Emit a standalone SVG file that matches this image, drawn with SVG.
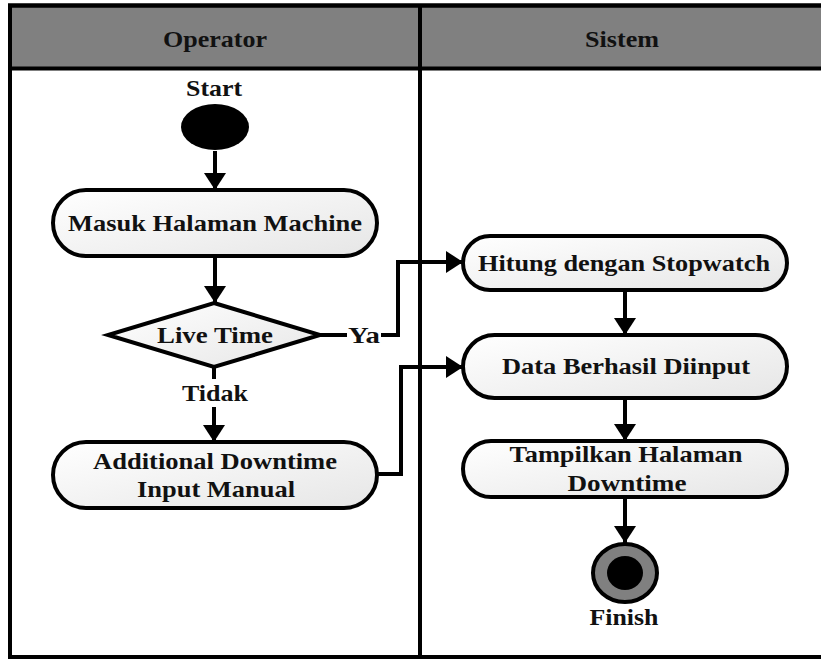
<svg xmlns="http://www.w3.org/2000/svg" width="821" height="659" viewBox="0 0 821 659">
  <defs>
    <linearGradient id="nodeFill" x1="0" y1="0" x2="1" y2="1">
      <stop offset="0" stop-color="#ffffff"/>
      <stop offset="1" stop-color="#e6e6e6"/>
    </linearGradient>
    <marker id="arrow" viewBox="0 0 17 22" refX="17" refY="11" markerWidth="17" markerHeight="22" markerUnits="userSpaceOnUse" orient="auto">
      <path d="M0,0 L17,11 L0,22 Z" fill="#000"/>
    </marker>
    <style>
      .lane { fill: none; stroke: #000; stroke-width: 4; }
      .head { fill: #808080; stroke: #000; stroke-width: 4; }
      .act { fill: url(#nodeFill); stroke: #000; stroke-width: 4; }
      .edge { fill: none; stroke: #000; stroke-width: 4; }
      .edge-arrow { fill: none; stroke: #000; stroke-width: 4; marker-end: url(#arrow); }
      text { font-family: "Liberation Serif", "Times New Roman", serif; font-weight: bold; font-size: 24px; fill: #111; text-anchor: middle; dominant-baseline: central; }
      .title { font-size: 23px; }
    </style>
  </defs>

  <!-- swimlanes -->
  <g id="lanes">
    <rect class="head" x="10" y="5.5" width="830" height="63"/>
    <rect class="lane" x="10" y="5.5" width="830" height="651.5"/>
    <line class="lane" x1="420" y1="5.5" x2="420" y2="657"/>
    <text class="title" x="215" y="39" textLength="104" lengthAdjust="spacingAndGlyphs">Operator</text>
    <text class="title" x="622" y="39" textLength="74" lengthAdjust="spacingAndGlyphs">Sistem</text>
  </g>

  <!-- connectors -->
  <g id="connectors">
    <line class="edge-arrow" x1="215" y1="151" x2="215" y2="190"/>
    <line class="edge-arrow" x1="215" y1="256" x2="215" y2="303"/>
    <line class="edge" x1="320" y1="335" x2="347" y2="335"/>
    <path class="edge-arrow" d="M381,335 H398 V262 H463"/>
    <line class="edge" x1="214" y1="367" x2="214" y2="379"/>
    <line class="edge-arrow" x1="214" y1="407" x2="214" y2="442"/>
    <path class="edge-arrow" d="M377,474 H401 V367 H463"/>
    <line class="edge-arrow" x1="625" y1="290" x2="625" y2="335"/>
    <line class="edge-arrow" x1="625" y1="398" x2="625" y2="441"/>
    <line class="edge-arrow" x1="625" y1="497" x2="625" y2="543"/>
    <text x="364" y="335" textLength="32" lengthAdjust="spacingAndGlyphs">Ya</text>
    <text x="215" y="393" textLength="66" lengthAdjust="spacingAndGlyphs">Tidak</text>
  </g>

  <g id="start">
    <text x="214" y="88" textLength="56" lengthAdjust="spacingAndGlyphs">Start</text>
    <ellipse cx="215" cy="127" rx="34" ry="23" fill="#000"/>
  </g>

  <g id="masuk-halaman-machine">
    <rect class="act" x="53" y="190" width="324" height="66" rx="33"/>
    <text x="215" y="223" textLength="294" lengthAdjust="spacingAndGlyphs">Masuk Halaman Machine</text>
  </g>

  <g id="live-time">
    <polygon class="act" points="214,303 320,335 214,367 108,335"/>
    <text x="215" y="335" textLength="116" lengthAdjust="spacingAndGlyphs">Live Time</text>
  </g>

  <g id="additional-downtime">
    <rect class="act" x="53" y="442" width="324" height="66" rx="33"/>
    <text x="215" y="461" textLength="244" lengthAdjust="spacingAndGlyphs">Additional Downtime</text>
    <text x="216" y="489" textLength="158" lengthAdjust="spacingAndGlyphs">Input Manual</text>
  </g>

  <g id="hitung-stopwatch">
    <rect class="act" x="463" y="236" width="324" height="54" rx="27"/>
    <text x="624" y="263" textLength="292" lengthAdjust="spacingAndGlyphs">Hitung dengan Stopwatch</text>
  </g>

  <g id="data-berhasil">
    <rect class="act" x="463" y="335" width="324" height="63" rx="31.5"/>
    <text x="626" y="366" textLength="248" lengthAdjust="spacingAndGlyphs">Data Berhasil Diinput</text>
  </g>

  <g id="tampilkan-halaman">
    <rect class="act" x="463" y="441" width="324" height="56" rx="28"/>
    <text x="626" y="454" textLength="233" lengthAdjust="spacingAndGlyphs">Tampilkan Halaman</text>
    <text x="627" y="483" textLength="119" lengthAdjust="spacingAndGlyphs">Downtime</text>
  </g>

  <g id="finish">
    <ellipse cx="625" cy="573" rx="32" ry="29" fill="#808080" stroke="#000" stroke-width="4"/>
    <ellipse cx="625" cy="573" rx="18" ry="17" fill="#000"/>
    <text x="624" y="617" textLength="69" lengthAdjust="spacingAndGlyphs">Finish</text>
  </g>
</svg>
